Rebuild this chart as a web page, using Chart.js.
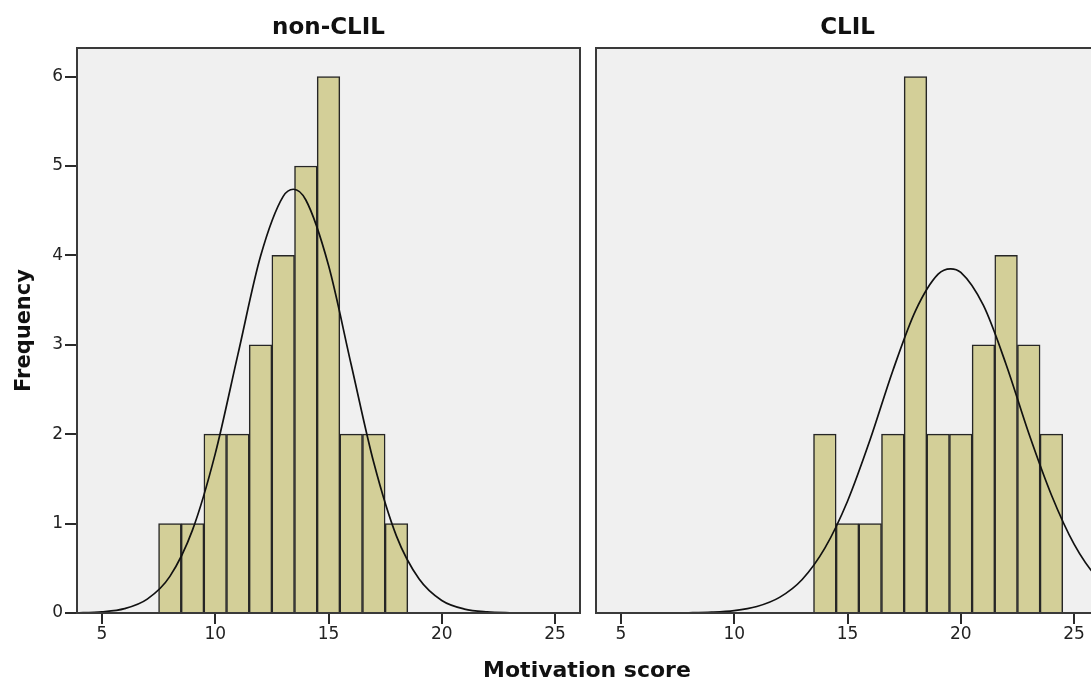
<!DOCTYPE html>
<html>
<head>
<meta charset="utf-8">
<script src="https://cdn.jsdelivr.net/npm/chart.js@4.4.0/dist/chart.umd.min.js"></script>
<style>
  html, body { margin: 0; padding: 0; background: #fff; overflow: hidden; }
  #wrap { position: relative; width: 1091px; height: 680px; overflow: hidden; }
  #left { position: absolute; left: 0; top: 0; }
  #right { position: absolute; left: 590px; top: 0; }
  #xtitle {
    position: absolute; left: 0; width: 1174px; top: 656px;
    text-align: center; font: bold 22px "DejaVu Sans"; line-height: 28px; color: #111;
  }
</style>
</head>
<body>
<div id="wrap">
  <canvas id="left" width="585" height="680"></canvas>
  <canvas id="right" width="515" height="680"></canvas>
  <div id="xtitle">Motivation score</div>
</div>
<script>
// tick labels
const xTicks = [5, 10, 15, 20, 25];
const yTicks = [0, 1, 2, 3, 4, 5, 6];
const panelTitles = ["non-CLIL", "CLIL"];

// histogram bins (bin centres, width 1) and counts
const nonClilBins = [8, 9, 10, 11, 12, 13, 14, 15, 16, 17, 18];
const nonClilFreq = [1, 1, 2, 2, 3, 4, 5, 6, 2, 2, 1];
const clilBins = [14, 15, 16, 17, 18, 19, 20, 21, 22, 23, 24];
const clilFreq = [2, 1, 1, 2, 6, 2, 2, 3, 4, 3, 2];

// normal curves
const nonClilCurveX = [3, 4, 5, 6, 7, 8, 9, 10, 11, 12, 13, 13.45, 14, 15, 16, 17, 18, 19, 20, 21, 22, 23, 24, 25, 26, 27];
const nonClilCurveY = [0.001, 0.003, 0.013, 0.049, 0.155, 0.41, 0.93, 1.78, 2.89, 3.99, 4.66, 4.74, 4.62, 3.89, 2.78, 1.68, 0.86, 0.38, 0.14, 0.044, 0.012, 0.003, 0.001, 0, 0, 0];
const clilCurveX = [3, 4, 5, 6, 7, 8, 9, 10, 11, 12, 13, 14, 15, 16, 17, 18, 19, 19.55, 20, 21, 22, 23, 24, 25, 26, 27];
const clilCurveY = [0, 0, 0, 0, 0.001, 0.003, 0.009, 0.027, 0.073, 0.175, 0.375, 0.725, 1.25, 1.94, 2.71, 3.38, 3.79, 3.85, 3.81, 3.44, 2.78, 2.01, 1.32, 0.77, 0.40, 0.19];

const frame = {
  id: "frame",
  beforeDraw(chart) {
    const a = chart.chartArea, ctx = chart.ctx;
    ctx.save();
    ctx.fillStyle = "#f0f0f0";
    ctx.fillRect(a.left, a.top, a.right - a.left, a.bottom - a.top);
    ctx.restore();
  },
  afterDraw(chart) {
    const a = chart.chartArea, ctx = chart.ctx;
    ctx.save();
    ctx.strokeStyle = "#3a3a3a";
    ctx.lineWidth = 2;
    ctx.strokeRect(a.left, a.top, a.right - a.left, a.bottom - a.top);
    ctx.restore();
  }
};

function panel(id, title, bins, freq, cx, cy, showY, pad) {
  return new Chart(id, {
    data: {
      datasets: [
        {
          type: "line",
          data: cx.map((x, i) => ({ x: x, y: cy[i] })),
          borderColor: "#111",
          borderWidth: 1.7,
          pointRadius: 0,
          fill: false,
          cubicInterpolationMode: "monotone",
          order: 0
        },
        {
          type: "bar",
          data: bins.map((b, i) => ({ x: b, y: freq[i] })),
          backgroundColor: "#d3cf98",
          borderColor: "#262626",
          borderWidth: 1.5,
          barPercentage: 1,
          categoryPercentage: 1,
          grouped: false,
          order: 1
        }
      ]
    },
    options: {
      responsive: false,
      animation: false,
      layout: { padding: pad },
      plugins: { legend: { display: false }, tooltip: { enabled: false } },
      scales: {
        x: {
          type: "linear",
          position: "bottom",
          min: 3.9,
          max: 26.1,
          offset: false,
          afterBuildTicks: s => { s.ticks = xTicks.map(v => ({ value: v })); },
          afterFit: s => { s.height = 67; },
          grid: { offset: false, drawOnChartArea: false, drawTicks: true, tickLength: 11, color: "#2a2a2a", lineWidth: 2 },
          border: { display: false },
          ticks: { font: { family: "DejaVu Sans", size: 17 }, color: "#222", padding: 0, maxRotation: 0, autoSkip: false }
        },
        top: {
          type: "linear",
          position: "top",
          afterFit: s => { s.height = 48; },
          grid: { display: false },
          border: { display: false },
          ticks: { display: false },
          title: {
            display: true, text: title, color: "#111",
            font: { family: "DejaVu Sans", size: 23, weight: "bold" },
            padding: { top: 14, bottom: 0 }
          }
        },
        y: {
          display: showY,
          min: 0,
          max: 6.32,
          afterBuildTicks: s => { s.ticks = yTicks.map(v => ({ value: v })); },
          afterFit: s => { s.width = showY ? 77 : 0; },
          grid: { drawOnChartArea: false, drawTicks: true, tickLength: 12, color: "#2a2a2a", lineWidth: 2 },
          border: { display: false },
          ticks: { font: { family: "DejaVu Sans", size: 17 }, color: "#222", padding: 2 },
          title: {
            display: true, text: "Frequency", color: "#111",
            font: { family: "DejaVu Sans", size: 21, weight: "bold" },
            padding: { top: 12, bottom: 0 }
          }
        }
      }
    },
    plugins: [frame]
  });
}

panel("left", panelTitles[0], nonClilBins, nonClilFreq, nonClilCurveX, nonClilCurveY, true, { left: 0, right: 5, top: 0, bottom: 0 });
panel("right", panelTitles[1], clilBins, clilFreq, clilCurveX, clilCurveY, false, { left: 6, right: 6, top: 0, bottom: 0 });
</script>
</body>
</html>
